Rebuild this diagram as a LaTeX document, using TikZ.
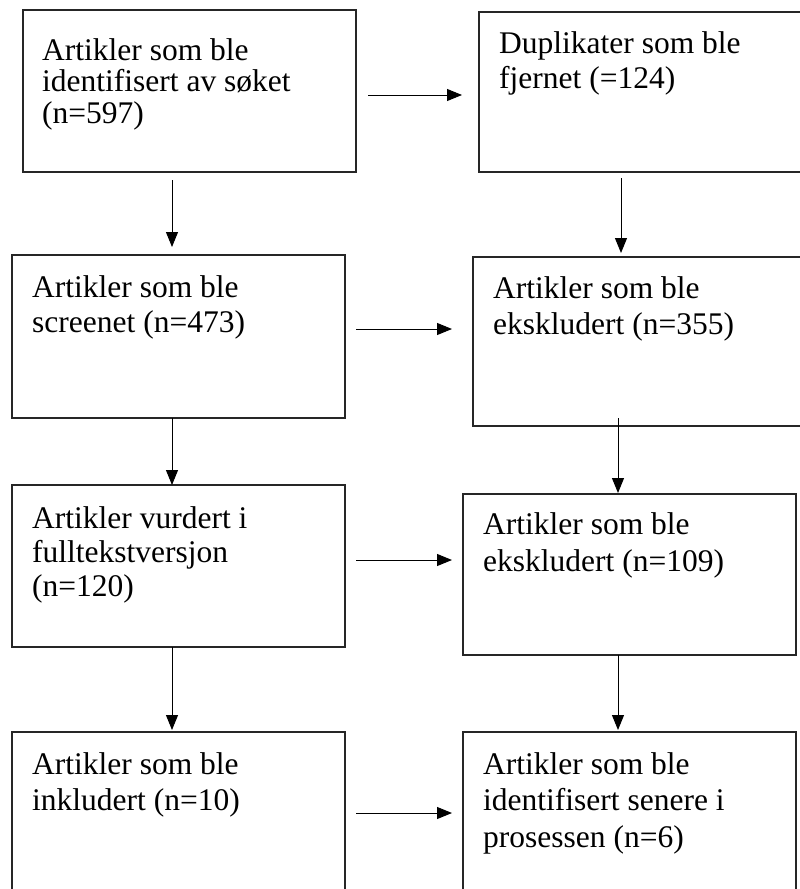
\documentclass[tikz,border=0pt]{standalone}
\usepackage{fontspec}
\setmainfont{Liberation Serif}
\usetikzlibrary{arrows.meta}
\begin{document}
\begin{tikzpicture}[x=1pt,y=-1pt,
  box/.style={draw=black!85, line width=1.2pt, rectangle, inner sep=0pt, outer sep=0pt, anchor=north west},
  txt/.style={anchor=north west, inner sep=0pt, align=left},
  arr/.style={line width=1pt, -{Triangle[length=15pt,width=12pt]}}]
\clip (0,0) rectangle (800,889);
% boxes
\node[box, minimum width=333pt, minimum height=162pt] (b1) at (23,10) {};
\node[box, minimum width=360pt, minimum height=160pt] (b2) at (479,12) {};
\node[box, minimum width=333pt, minimum height=163pt] (b3) at (12,255) {};
\node[box, minimum width=360pt, minimum height=169pt] (b4) at (473,257) {};
\node[box, minimum width=333pt, minimum height=162pt] (b5) at (12,485) {};
\node[box, minimum width=333pt, minimum height=161pt] (b6) at (463,494) {};
\node[box, minimum width=333pt, minimum height=200pt] (b7) at (12,732) {};
\node[box, minimum width=333pt, minimum height=200pt] (b8) at (463,732) {};
% texts
\node[txt, font=\fontsize{31.5}{31.5}\selectfont] (t1) at (42,38) {Artikler som ble\\identifisert av søket\\(n=597)};
\node[txt, font=\fontsize{31.5}{35}\selectfont] (t2) at (499,31) {Duplikater som ble\\fjernet (=124)};
\node[txt, font=\fontsize{31.5}{35}\selectfont] (t3) at (32,275) {Artikler som ble\\screenet (n=473)};
\node[txt, font=\fontsize{31.5}{36}\selectfont] (t4) at (493,276) {Artikler som ble\\ekskludert (n=355)};
\node[txt, font=\fontsize{31.5}{34}\selectfont] (t5) at (32,506) {Artikler vurdert i\\fulltekstversjon\\(n=120)};
\node[txt, font=\fontsize{31.5}{37}\selectfont] (t6) at (483,512) {Artikler som ble\\ekskludert (n=109)};
\node[txt, font=\fontsize{31.5}{36}\selectfont] (t7) at (32,752) {Artikler som ble\\inkludert (n=10)};
\node[txt, font=\fontsize{31.5}{36.5}\selectfont] (t8) at (483,752) {Artikler som ble\\identifisert senere i\\prosessen (n=6)};
% arrow positions
\coordinate (xl) at (172,0);
\coordinate (xr1) at (621,0);
\coordinate (xr2) at (618,0);
\coordinate (y1) at (0,95);
\coordinate (y2) at (0,329);
\coordinate (y3) at (0,560);
\coordinate (y4) at (0,813);
% horizontal arrows
\draw[arr, shorten <=12pt, shorten >=17pt] (b1.east |- y1) -- (b2.west |- y1);
\draw[arr, shorten <=11pt, shorten >=21pt] (b3.east |- y2) -- (b4.west |- y2);
\draw[arr, shorten <=11pt, shorten >=11pt] (b5.east |- y3) -- (b6.west |- y3);
\draw[arr, shorten <=11pt, shorten >=11pt] (b7.east |- y4) -- (b8.west |- y4);
% vertical arrows
\draw[arr, shorten <=8pt, shorten >=8pt] (b1.south -| xl) -- (b3.north -| xl);
\draw[arr] (b3.south -| xl) -- (b5.north -| xl);
\draw[arr, shorten >=2pt] (b5.south -| xl) -- (b7.north -| xl);
\draw[arr, shorten <=6pt, shorten >=4pt] (b2.south -| xr1) -- (b4.north -| xr1);
\draw[arr, shorten <=-8pt, shorten >=1pt] (b4.south -| xr2) -- (b6.north -| xr2);
\draw[arr, shorten >=2pt] (b6.south -| xr2) -- (b8.north -| xr2);
\end{tikzpicture}
\end{document}
